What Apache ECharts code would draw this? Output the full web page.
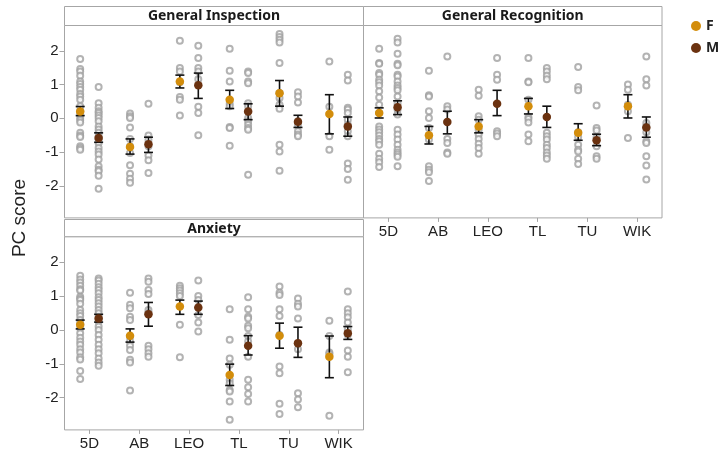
<!DOCTYPE html>
<html>
<head>
<meta charset="utf-8">
<script src="https://cdn.jsdelivr.net/npm/echarts@6/dist/echarts.min.js"></script>
<style>
  html, body { margin: 0; padding: 0; background: #fff; }
  #main { width: 719px; height: 452px; }
</style>
</head>
<body>
<div id="main"></div>
<script>
var sites = ['5D', 'AB', 'LEO', 'TL', 'TU', 'WIK'];
var panelTitles = ['General Inspection', 'General Recognition', 'Anxiety'];
var yTicks = [-2, -1, 0, 1, 2];

// individual scores per site (F / M), one array per panel
var giPtsF = [
  [1.76, 1.46, 1.39, 1.26, 1.09, 1.02, 0.93, 0.85, 0.72, 0.65, 0.55, 0.36, 0.21, 0.11, 0.01, -0.06, -0.12, -0.43, -0.51, -0.55, -0.83, -0.88, -0.93],
  [0.14, 0.06, 0.01, -0.27, -0.61, -0.83, -1.03, -1.39, -1.64, -1.79, -1.91],
  [2.30, 1.49, 1.39, 1.07, 0.63, 0.55, 0.08],
  [2.06, 1.41, 1.09, 0.43, 0.36, -0.26, -0.29, -0.81],
  [2.50, 2.41, 2.33, 2.25, 1.64, 0.75, 0.60, 0.40, 0.28, -0.78, -0.98, -1.55],
  [1.68, 0.34, -0.53, -0.93]
];
var giPtsM = [
  [0.93, 0.45, 0.31, 0.21, 0.16, 0.08, 0.01, -0.09, -0.24, -0.33, -0.43, -0.53, -0.63, -0.73, -0.88, -0.98, -1.07, -1.22, -1.42, -1.52, -1.57, -1.70, -2.09],
  [0.43, -0.51, -0.63, -0.83, -1.10, -1.24, -1.62],
  [2.15, 1.79, 1.49, 1.39, 1.16, 0.34, 0.16, -0.50],
  [1.39, 1.34, 1.09, 1.04, 0.45, 0.36, 0.01, -0.09, -0.19, -0.29, -0.34, -1.67],
  [0.77, 0.65, 0.47, -0.09, -0.19, -0.38, -0.48, -0.53],
  [1.29, 1.12, 0.31, 0.26, 0.16, -0.04, -0.19, -0.38, -0.53, -1.34, -1.50, -1.82]
];
var grPtsF = [
  [2.06, 1.64, 1.62, 1.34, 1.29, 1.14, 1.07, 0.97, 0.80, 0.62, 0.40, 0.16, -0.24, -0.33, -0.41, -0.51, -0.61, -0.68, -0.78, -1.05, -1.20, -1.30, -1.44],
  [1.41, 0.68, 0.65, 0.21, 0.01, -0.29, -0.63, -1.42, -1.52, -1.60, -1.86],
  [0.85, 0.67, 0.06, -0.04, -0.34, -0.48, -0.61, -0.75, -0.88, -1.05],
  [1.79, 1.09, 1.07, 0.55, 0.04, -0.02, -0.12, -0.48, -0.68],
  [1.52, 0.93, 0.83, -0.41, -0.55, -0.78, -0.93, -0.98, -1.20, -1.35],
  [1.00, 0.85, 0.40, 0.21, -0.58]
];
var grPtsM = [
  [2.36, 2.25, 1.91, 1.62, 1.57, 1.29, 1.24, 1.09, 0.97, 0.90, 0.83, 0.65, 0.45, 0.26, 0.11, -0.34, -0.48, -0.63, -0.78, -0.93, -1.01, -1.07, -1.14, -1.42],
  [1.83, 0.36, 0.26, -0.61, -0.73, -1.01, -1.05],
  [1.79, 1.29, 1.14, -0.38, -0.45, -0.53],
  [1.49, 1.39, 1.26, 1.16, -0.43, -0.53, -0.63, -0.78, -0.88, -1.01, -1.10, -1.20],
  [0.38, -0.29, -0.36, -0.55, -0.83, -1.12, -1.20],
  [1.83, 1.16, 0.97, -0.14, -0.24, -0.41, -0.68, -0.73, -1.12, -1.40, -1.81]
];
var anxPtsF = [
  [1.60, 1.49, 1.40, 1.30, 1.20, 1.16, 0.98, 0.93, 0.88, 0.77, 0.59, 0.49, 0.41, 0.29, 0.18, 0.05, -0.10, -0.23, -0.34, -0.44, -0.57, -0.67, -0.81, -0.87, -1.21, -1.45],
  [1.10, 0.74, 0.64, 0.39, 0.29, -0.20, -0.34, -0.47, -0.59, -0.88, -0.96, -1.79],
  [1.30, 1.23, 1.16, 1.08, 1.00, 0.15, -0.81],
  [0.61, -0.29, -0.84, -1.03, -1.47, -1.57, -1.77, -1.82, -2.11, -2.65],
  [1.28, 1.10, 1.03, 0.61, 0.41, -0.15, -1.08, -1.28, -2.18, -2.48],
  [0.27, -0.18, -0.67, -0.71, -2.53]
];
var anxPtsM = [
  [1.52, 1.46, 1.36, 1.26, 1.18, 1.08, 0.96, 0.88, 0.79, 0.69, 0.59, 0.49, 0.37, 0.25, 0.10, 0.00, -0.15, -0.29, -0.44, -0.57, -0.69, -0.84, -0.96, -1.06],
  [1.52, 1.42, 1.18, 1.06, 0.59, 0.49, -0.47, -0.57, -0.69, -0.79],
  [1.46, 1.00, 0.88, 0.44, 0.22, -0.05],
  [0.96, 0.61, 0.39, 0.34, 0.12, 0.05, -0.18, -0.34, -0.79, -1.47, -1.69, -1.89, -2.11],
  [0.93, 0.77, 0.69, 0.34, -0.57, -1.87, -2.05, -2.28],
  [1.13, 0.61, 0.49, 0.37, 0.22, 0.02, -0.15, -0.61, -0.79, -1.25]
];

// group means and error bar ends
var giMeanF = [0.20, -0.85, 1.09, 0.55, 0.74, 0.13];
var giLowF  = [0.08, -1.06, 0.90, 0.29, 0.36, -0.46];
var giHighF = [0.35, -0.61, 1.28, 0.83, 1.12, 0.70];
var giMeanM = [-0.58, -0.77, 0.98, 0.20, -0.10, -0.24];
var giLowM  = [-0.71, -1.01, 0.59, -0.04, -0.27, -0.53];
var giHighM = [-0.43, -0.56, 1.34, 0.43, 0.09, 0.04];

var grMeanF = [0.16, -0.50, -0.24, 0.36, -0.43, 0.36];
var grLowF  = [0.01, -0.76, -0.43, 0.13, -0.65, 0.01];
var grHighF = [0.31, -0.24, -0.04, 0.59, -0.16, 0.70];
var grMeanM = [0.33, -0.11, 0.43, 0.04, -0.65, -0.27];
var grLowM  = [0.11, -0.46, 0.08, -0.27, -0.81, -0.56];
var grHighM = [0.52, 0.21, 0.83, 0.36, -0.47, 0.04];

var anxMeanF = [0.15, -0.17, 0.69, -1.33, -0.17, -0.79];
var anxLowF  = [0.03, -0.36, 0.46, -1.64, -0.54, -1.41];
var anxHighF = [0.29, 0.03, 0.88, -1.01, 0.20, -0.18];
var anxMeanM = [0.34, 0.46, 0.66, -0.47, -0.39, -0.10];
var anxLowM  = [0.23, 0.11, 0.46, -0.74, -0.81, -0.28];
var anxHighM = [0.46, 0.81, 0.85, -0.17, 0.08, 0.10];

var colF = '#D38D0B';
var colM = '#6B3210';
var gray = '#a0a0a0';
var off = 0.185;

var panels = [
  { ptsF: giPtsF, ptsM: giPtsM, meanF: giMeanF, lowF: giLowF, highF: giHighF, meanM: giMeanM, lowM: giLowM, highM: giHighM },
  { ptsF: grPtsF, ptsM: grPtsM, meanF: grMeanF, lowF: grLowF, highF: grHighF, meanM: grMeanM, lowM: grLowM, highM: grHighM },
  { ptsF: anxPtsF, ptsM: anxPtsM, meanF: anxMeanF, lowF: anxLowF, highF: anxHighF, meanM: anxMeanM, lowM: anxLowM, highM: anxHighM }
];

var grids = [
  { left: 64.5, top: 25.5, width: 299, height: 192.4 },
  { left: 363.5, top: 25.5, width: 298.5, height: 192.4 },
  { left: 64.5, top: 236.7, width: 299, height: 193.2 }
];

function errRender(params, api) {
  var x = api.value(0);
  var lo = api.coord([x, api.value(1)]);
  var hi = api.coord([x, api.value(2)]);
  var w = 4.5;
  var st = { stroke: '#111', lineWidth: 1.6 };
  return {
    type: 'group',
    children: [
      { type: 'line', shape: { x1: lo[0], y1: lo[1], x2: hi[0], y2: hi[1] }, style: st },
      { type: 'line', shape: { x1: lo[0] - w, y1: lo[1], x2: lo[0] + w, y2: lo[1] }, style: st },
      { type: 'line', shape: { x1: hi[0] - w, y1: hi[1], x2: hi[0] + w, y2: hi[1] }, style: st }
    ]
  };
}

var series = [];
panels.forEach(function (p, g) {
  var rawF = [], rawM = [];
  sites.forEach(function (s, i) {
    p.ptsF[i].forEach(function (v) { rawF.push([i - off, v]); });
    p.ptsM[i].forEach(function (v) { rawM.push([i + off, v]); });
  });
  [rawF, rawM].forEach(function (d) {
    series.push({
      type: 'scatter', xAxisIndex: g, yAxisIndex: g, data: d,
      symbol: 'emptyCircle', symbolSize: 6, z: 2, silent: true,
      itemStyle: { color: gray, borderColor: gray, borderWidth: 1 }
    });
  });
  series.push({
    type: 'custom', xAxisIndex: g, yAxisIndex: g, z: 3, silent: true,
    renderItem: errRender, encode: { x: 0, y: [1, 2] },
    data: sites.map(function (s, i) { return [i - off, p.lowF[i], p.highF[i]]; })
  });
  series.push({
    type: 'custom', xAxisIndex: g, yAxisIndex: g, z: 3, silent: true,
    renderItem: errRender, encode: { x: 0, y: [1, 2] },
    data: sites.map(function (s, i) { return [i + off, p.lowM[i], p.highM[i]]; })
  });
  series.push({
    name: 'F', type: 'scatter', xAxisIndex: g, yAxisIndex: g, z: 4,
    symbolSize: 8.5, itemStyle: { color: colF, opacity: 1 },
    data: sites.map(function (s, i) { return [i - off, p.meanF[i]]; })
  });
  series.push({
    name: 'M', type: 'scatter', xAxisIndex: g, yAxisIndex: g, z: 4,
    symbolSize: 8.5, itemStyle: { color: colM, opacity: 1 },
    data: sites.map(function (s, i) { return [i + off, p.meanM[i]]; })
  });
});

var xAxes = grids.map(function (gr, g) {
  return {
    gridIndex: g, type: 'value', min: -0.5, max: 5.5, position: 'bottom',
    axisLine: { show: false, onZero: false }, splitLine: { show: false },
    axisTick: { show: g !== 0, customValues: [0, 1, 2, 3, 4, 5], length: 4, lineStyle: { color: '#a6a6a6' } },
    axisLabel: {
      show: g !== 0, customValues: [0, 1, 2, 3, 4, 5], margin: 6,
      fontFamily: 'Liberation Sans', fontSize: 15, color: '#222',
      formatter: function (v) { return sites[Math.round(v)]; }
    }
  };
});

var yAxes = grids.map(function (gr, g) {
  return {
    gridIndex: g, type: 'value', min: -2.95, max: 2.75, position: 'left',
    axisLine: { show: false, onZero: false }, splitLine: { show: false },
    axisTick: { show: g !== 1, customValues: yTicks, length: 5, lineStyle: { color: '#a6a6a6' } },
    axisLabel: {
      show: g !== 1, customValues: yTicks, margin: 6,
      fontFamily: 'Liberation Sans', fontSize: 15, color: '#222'
    }
  };
});

var stripBoxes = [
  { x: 64.5, y: 6.5, w: 299, h: 19 },
  { x: 363.5, y: 6.5, w: 298.5, h: 19 },
  { x: 64.5, y: 219.5, w: 299, h: 17.2 }
];
var graphics = [];
stripBoxes.forEach(function (b, g) {
  graphics.push({
    type: 'rect', shape: { x: b.x, y: b.y, width: b.w, height: b.h },
    style: { fill: '#fff', stroke: '#a6a6a6', lineWidth: 1 }, z: 10
  });
  graphics.push({
    type: 'text', x: b.x + b.w / 2, y: b.y + b.h / 2 + 0.5, z: 11,
    style: {
      text: panelTitles[g], align: 'center', verticalAlign: 'middle',
      font: 'bold 14px "Noto Sans"', fill: '#1a1a1a'
    }
  });
});
graphics.push({
  type: 'text', x: 20, y: 218, rotation: Math.PI / 2, z: 11,
  style: {
    text: 'PC score', align: 'center', verticalAlign: 'middle',
    font: '19px "Liberation Sans"', fill: '#222'
  }
});

var myChart = echarts.init(document.getElementById('main'));
var option = {
  animation: false,
  backgroundColor: '#fff',
  grid: grids.map(function (gr) {
    return { left: gr.left, top: gr.top, width: gr.width, height: gr.height, show: true, borderColor: '#a6a6a6', borderWidth: 1, backgroundColor: '#fff' };
  }),
  xAxis: xAxes,
  yAxis: yAxes,
  legend: {
    data: ['F', 'M'], orient: 'vertical', left: 686, top: 14,
    icon: 'circle', itemWidth: 10, itemHeight: 10, itemGap: 8,
    textStyle: { fontFamily: 'Noto Sans', fontSize: 14, fontWeight: 'bold', color: '#222' }
  },
  graphic: graphics,
  series: series
};
myChart.setOption(option);
</script>
</body>
</html>
